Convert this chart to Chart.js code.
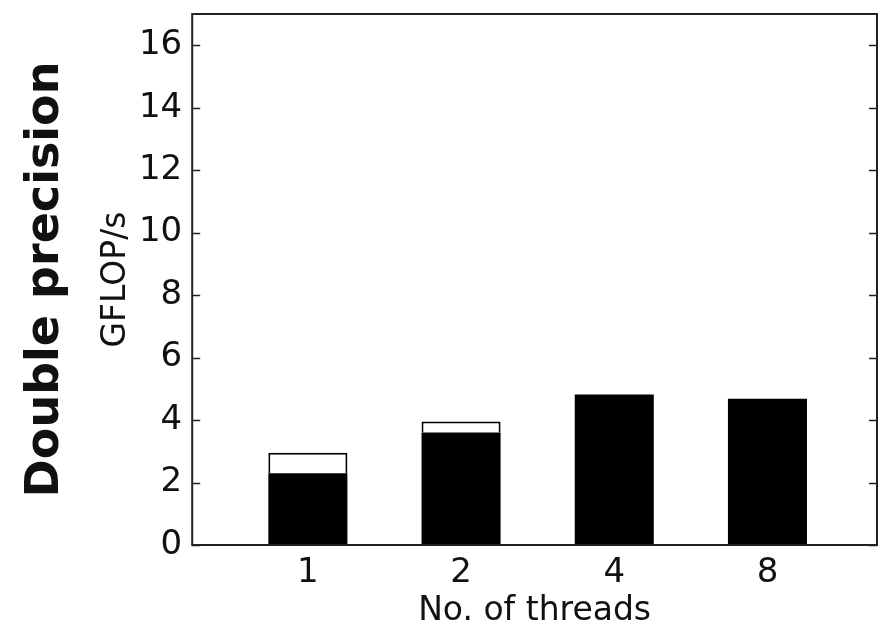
<!DOCTYPE html>
<html>
<head>
<meta charset="utf-8">
<script src="https://cdn.jsdelivr.net/npm/chart.js@4.4.1/dist/chart.umd.min.js"></script>
<style>
  html, body { margin: 0; padding: 0; background: #fff; }
  #wrap { width: 881px; height: 631px; }
</style>
</head>
<body>
<div id="wrap"><canvas id="chart" width="881" height="631"></canvas></div>
<script>
// Values
const threads = ['1', '2', '4', '8'];
const gflopsBase = [2.3, 3.6, 4.82, 4.68];     // black part
const gflopsExtra = [0.65, 0.35, null, null];  // white outlined part on top
const yTicks = [0, 2, 4, 6, 8, 10, 12, 14, 16];

const FONT = "'DejaVu Sans', sans-serif";
const INK = '#111';

// Frame around the plot plus inward y ticks on both sides (matplotlib look)
const framePlugin = {
  id: 'frame',
  afterDatasetsDraw(chart) {
    const { ctx, chartArea: a, scales: { y } } = chart;
    ctx.save();
    ctx.strokeStyle = '#222';
    ctx.lineWidth = 2;
    ctx.strokeRect(a.left, a.top, a.right - a.left, a.bottom - a.top);
    ctx.lineWidth = 1.5;
    ctx.beginPath();
    yTicks.forEach(v => {
      const py = Math.round(y.getPixelForValue(v)) + 0.5;
      ctx.moveTo(a.left, py); ctx.lineTo(a.left + 8, py);
      ctx.moveTo(a.right, py); ctx.lineTo(a.right - 8, py);
    });
    ctx.stroke();
    ctx.restore();
  }
};

// drop the half-label padding chart.js reserves at the ends of each axis
const noEndPadding = s => {
  s.paddingTop = 0; s.paddingBottom = 0;
  s.paddingLeft = 0; s.paddingRight = 0;
};

const ctx = document.getElementById('chart').getContext('2d');
new Chart(ctx, {
  type: 'bar',
  data: {
    datasets: [{
      label: 'base',
      data: gflopsBase.map((v, i) => ({ x: i, y: v })),
      backgroundColor: '#000',
      borderWidth: 0,
      barPercentage: 0.516,
      categoryPercentage: 1
    }, {
      label: 'extra',
      data: gflopsExtra.map((v, i) => ({ x: i, y: v })),
      backgroundColor: '#fff',
      borderColor: '#000',
      borderWidth: 2,
      barPercentage: 0.516,
      categoryPercentage: 1
    }]
  },
  options: {
    responsive: false,
    devicePixelRatio: 1,
    animation: false,
    layout: { padding: { left: 0, right: 4, top: 14, bottom: 0 } },
    plugins: {
      legend: { display: false },
      tooltip: { enabled: false },
      title: {
        display: true,
        text: 'Double precision',
        position: 'left',
        fullSize: false,
        color: INK,
        font: { family: FONT, size: 46, weight: 'bold' },
        padding: { top: 18, bottom: 4 }
      }
    },
    scales: {
      x: {
        type: 'linear',
        stacked: true,
        offset: false,
        min: -0.755,
        max: 3.715,
        grid: { display: false },
        border: { display: false },
        afterBuildTicks: s => { s.ticks = threads.map((_, i) => ({ value: i })); },
        afterFit: s => { s.height = 86; noEndPadding(s); },
        ticks: {
          padding: 0,
          color: INK,
          font: { family: FONT, size: 34 },
          callback: v => threads[v]
        },
        title: {
          display: true,
          text: 'No. of threads',
          color: INK,
          font: { family: FONT, size: 33 },
          padding: { top: 0, bottom: 0 }
        }
      },
      y: {
        stacked: true,
        min: 0,
        max: 17,
        grid: { display: false, drawTicks: false },
        border: { display: false },
        afterFit: s => { s.width = 115; noEndPadding(s); },
        ticks: {
          stepSize: 2,
          includeBounds: false,
          padding: 10,
          color: INK,
          font: { family: FONT, size: 34 }
        },
        title: {
          display: true,
          text: 'GFLOP/s',
          color: INK,
          font: { family: FONT, size: 33 },
          padding: { top: 19, bottom: 0 }
        }
      }
    }
  },
  plugins: [framePlugin]
});
</script>
</body>
</html>
